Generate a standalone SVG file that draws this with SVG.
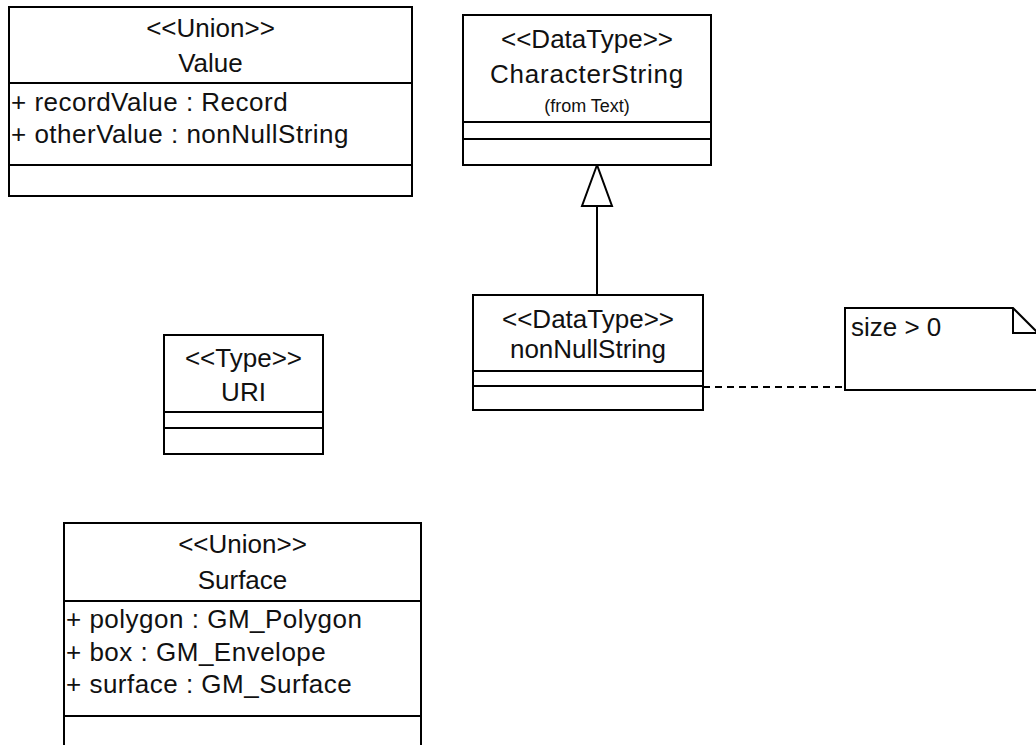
<svg xmlns="http://www.w3.org/2000/svg" width="1036" height="745" viewBox="0 0 1036 745">
<style>
.box{fill:#fff;stroke:#000;stroke-width:2}
.div{stroke:#000;stroke-width:2}
.t{font-family:"Liberation Sans",Arial,sans-serif;font-size:26px;fill:#111}
.c{text-anchor:middle}
.a{letter-spacing:0.5px}
.s{font-size:18px}
.edge{stroke:#000;stroke-width:2;fill:none}
.dash{stroke-dasharray:7 5}
</style>
<rect x="0" y="0" width="1036" height="745" fill="#fff"/>
<g id="connectors">
<line class="edge" x1="597" y1="206" x2="597" y2="295"/>
<polygon points="597,165 582,206 612,206" fill="#fff" stroke="#000" stroke-width="2"/>
<line class="edge dash" x1="703" y1="387" x2="845" y2="387"/>
</g>
<g id="Value">
<rect class="box" x="9" y="7" width="403" height="189"/>
<line class="div" x1="9" y1="83" x2="412" y2="83"/>
<line class="div" x1="9" y1="165" x2="412" y2="165"/>
<text class="t c" x="210.5" y="37">&lt;&lt;Union&gt;&gt;</text>
<text class="t c" x="210.5" y="72">Value</text>
<text class="t a" x="11" y="111">+ recordValue : Record</text>
<text class="t a" x="11" y="143">+ otherValue : nonNullString</text>
</g>
<g id="CharacterString">
<rect class="box" x="463" y="15" width="248" height="150"/>
<line class="div" x1="463" y1="122" x2="711" y2="122"/>
<line class="div" x1="463" y1="139" x2="711" y2="139"/>
<text class="t c" x="587" y="48">&lt;&lt;DataType&gt;&gt;</text>
<text class="t c" x="587" y="83" style="letter-spacing:0.8px">CharacterString</text>
<text class="t c s" x="587" y="112">(from Text)</text>
</g>
<g id="nonNullString">
<rect class="box" x="473" y="295" width="230" height="115"/>
<line class="div" x1="473" y1="371" x2="703" y2="371"/>
<line class="div" x1="473" y1="386" x2="703" y2="386"/>
<text class="t c" x="588" y="328">&lt;&lt;DataType&gt;&gt;</text>
<text class="t c" x="588" y="358">nonNullString</text>
</g>
<g id="note">
<path class="box" d="M845,308 H1013 L1040,335 V390 H845 Z"/>
<path class="edge" d="M1013,308 V333 H1038"/>
<text class="t" x="851" y="336">size &gt; 0</text>
</g>
<g id="URI">
<rect class="box" x="164" y="335" width="159" height="119"/>
<line class="div" x1="164" y1="412" x2="323" y2="412"/>
<line class="div" x1="164" y1="428" x2="323" y2="428"/>
<text class="t c" x="243.5" y="367">&lt;&lt;Type&gt;&gt;</text>
<text class="t c" x="243.5" y="401">URI</text>
</g>
<g id="Surface">
<rect class="box" x="64" y="523" width="357" height="240"/>
<line class="div" x1="64" y1="601" x2="421" y2="601"/>
<line class="div" x1="64" y1="716" x2="421" y2="716"/>
<text class="t c" x="242.5" y="553">&lt;&lt;Union&gt;&gt;</text>
<text class="t c" x="242.5" y="589">Surface</text>
<text class="t a" x="66" y="628">+ polygon : GM_Polygon</text>
<text class="t a" x="66" y="661">+ box : GM_Envelope</text>
<text class="t a" x="66" y="693">+ surface : GM_Surface</text>
</g>
</svg>
